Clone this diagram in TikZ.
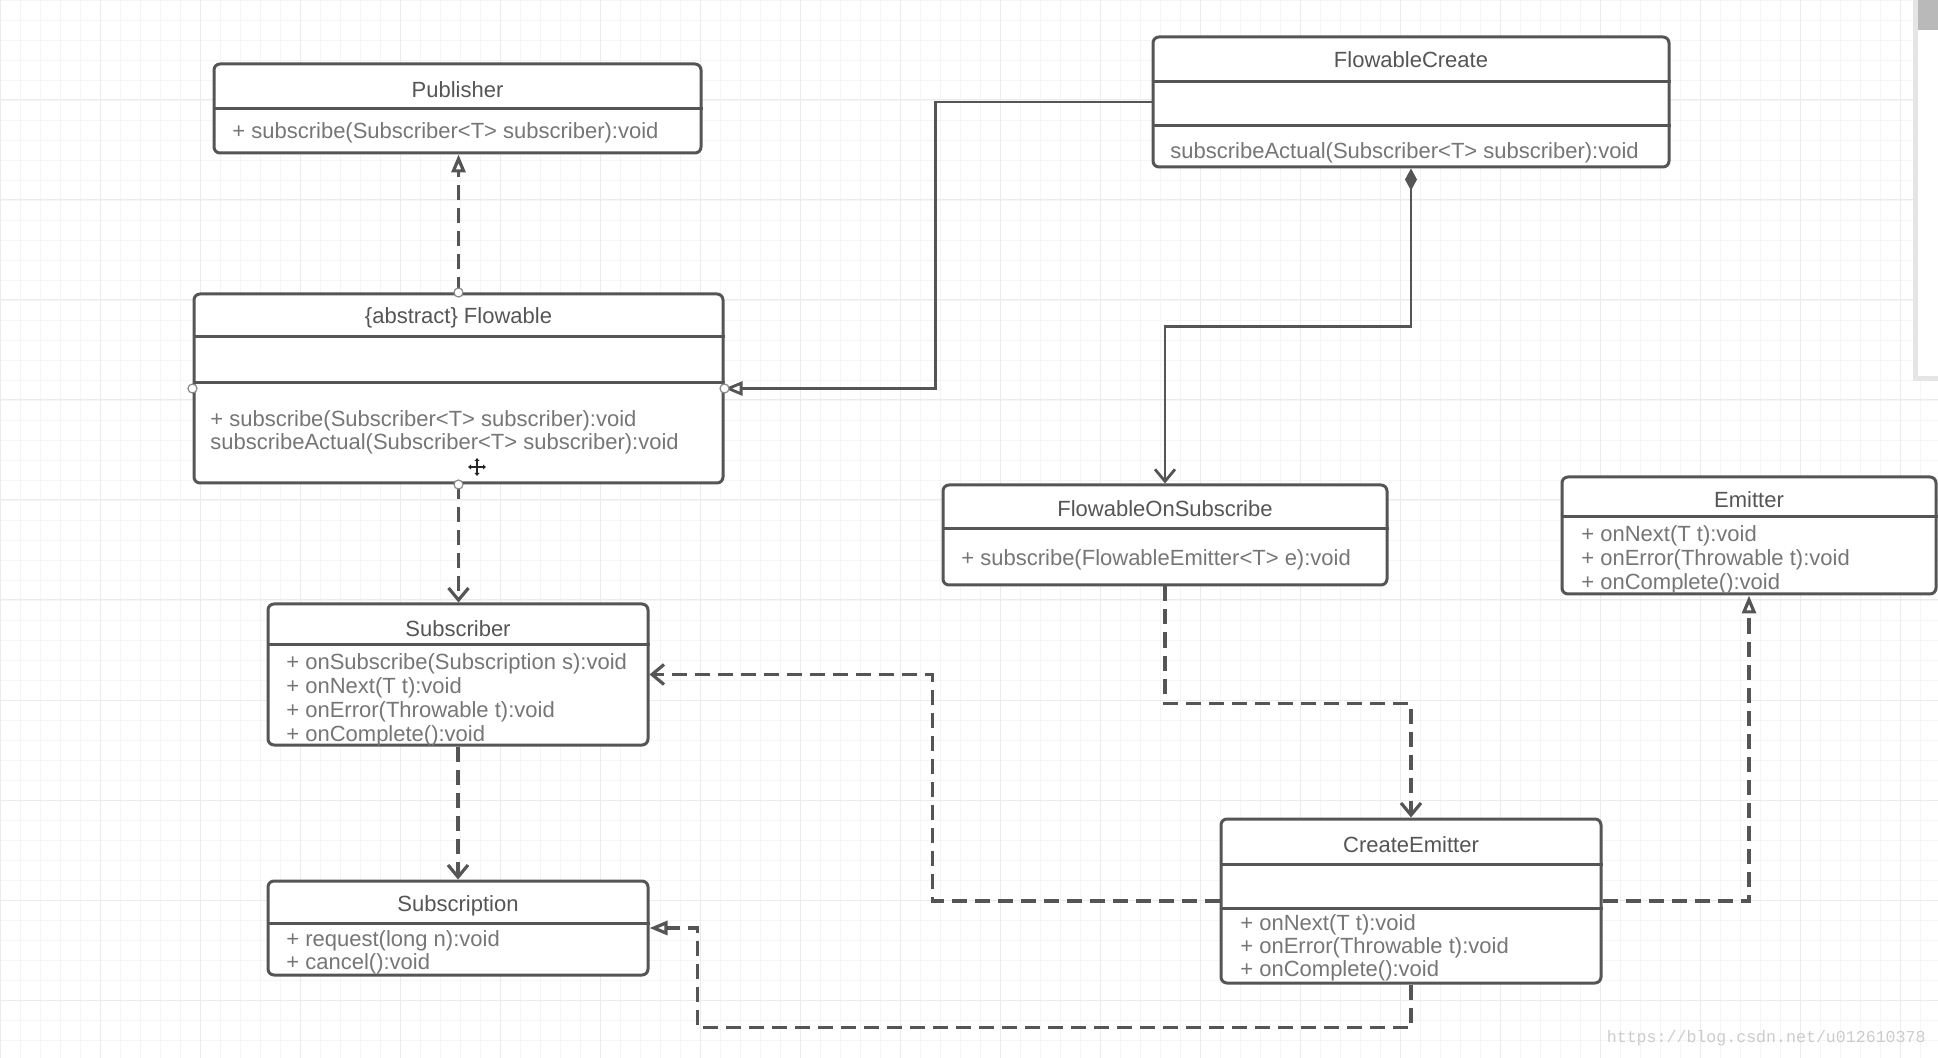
\documentclass[tikz,border=0pt]{standalone}
\usepackage{fontspec}
\setmainfont{Liberation Sans}
\newfontfamily\wmfont{Liberation Mono}
\usetikzlibrary{arrows.meta,fit,calc}
\definecolor{lc}{HTML}{555555}
\definecolor{tc}{HTML}{767676}
\definecolor{hc}{HTML}{555555}
\definecolor{gmin}{HTML}{F5F5F5}
\definecolor{gmaj}{HTML}{EBEBEB}
\tikzset{
 cls/.style={draw=lc, line width=1.5pt, rounded corners=3pt, inner sep=0pt, fill=white},
 sep/.style={draw=lc, line width=1.5pt},
 ttl/.style={font=\fontsize{11}{13}\selectfont, text=hc, inner sep=0pt},
 mem/.style={font=\fontsize{11}{13}\selectfont, text=tc, inner sep=0pt, anchor=west},
 conn/.style={draw=lc, line width=1.4pt},
 dsh/.style={conn, line width=1.6pt, dash pattern=on 7.5pt off 4pt},
 realize/.style={-{Triangle[open, length=9pt, width=7pt]}},
 depend/.style={-{Straight Barb[length=6pt, width=10pt]}},
 handle/.style={circle, draw=lc!70, fill=white, line width=0.6pt, inner sep=0pt, minimum size=4.5pt},
}
\begin{document}
\begin{tikzpicture}[x=0.5pt,y=-0.5pt]
\useasboundingbox (0,0) rectangle (1938,1058);
\fill[white] (0,0) rectangle (1938,1058);
% grid
\foreach \x in {0,20,...,1940} \draw[gmin, line width=0.4pt] (\x,0) -- (\x,1058);
\foreach \y in {0,20,...,1060} \draw[gmin, line width=0.4pt] (0,\y) -- (1938,\y);
\foreach \x in {0,100,...,1900} \draw[gmaj, line width=0.5pt] (\x,0) -- (\x,1058);
\foreach \y in {0,100,...,1000} \draw[gmaj, line width=0.5pt] (0,\y) -- (1938,\y);

% boxes
\node[cls, fit={(214,64)(701,153)}] (pub) {};
\node[cls, fit={(194,294)(723,483)}] (flow) {};
\node[cls, fit={(1153,37)(1669,167)}] (fc) {};
\node[cls, fit={(268,604)(648,745)}] (sub) {};
\node[cls, fit={(268,881)(648,975)}] (subn) {};
\node[cls, fit={(943,485)(1387,585)}] (fos) {};
\node[cls, fit={(1562,477)(1936,594)}] (em) {};
\node[cls, fit={(1221,819)(1601,983)}] (ce) {};

% dividers
\draw[sep] (pub.west |- 0,109) -- (pub.east |- 0,109);
\draw[sep] (flow.west |- 0,337) -- (flow.east |- 0,337);
\draw[sep] (flow.west |- 0,383) -- (flow.east |- 0,383);
\draw[sep] (fc.west |- 0,82) -- (fc.east |- 0,82);
\draw[sep] (fc.west |- 0,126) -- (fc.east |- 0,126);
\draw[sep] (sub.west |- 0,644) -- (sub.east |- 0,644);
\draw[sep] (subn.west |- 0,923) -- (subn.east |- 0,923);
\draw[sep] (fos.west |- 0,529) -- (fos.east |- 0,529);
\draw[sep] (em.west |- 0,517) -- (em.east |- 0,517);
\draw[sep] (ce.west |- 0,864) -- (ce.east |- 0,864);
\draw[sep] (ce.west |- 0,908) -- (ce.east |- 0,908);

% titles
\node[ttl] (tpub) at (pub.north |- 0,90) {Publisher};
\node[ttl] (tflow) at (flow.north |- 0,318) {\{abstract\} Flowable};
\node[ttl] (tfc) at (fc.north |- 0,60) {FlowableCreate};
\node[ttl] (tsub) at (sub.north |- 0,629) {Subscriber};
\node[ttl] (tsubn) at (subn.north |- 0,906) {Subscription};
\node[ttl] (tfos) at (fos.north |- 0,509) {FlowableOnSubscribe};
\node[ttl] (tem) at (em.north |- 0,500) {Emitter};
\node[ttl] (tce) at (ce.north |- 0,845) {CreateEmitter};

% members
\node[mem] (m1) at (232,133) {+ subscribe(Subscriber<T> subscriber):void};
\node[mem] (m2) at (210,421) {+ subscribe(Subscriber<T> subscriber):void};
\node[mem] (m3) at (210,444) {subscribeActual(Subscriber<T> subscriber):void};
\node[mem] (m4) at (1170,153) {subscribeActual(Subscriber<T> subscriber):void};
\node[mem] (m5) at (286,664) {+ onSubscribe(Subscription s):void};
\node[mem] (m6) at (286,688) {+ onNext(T t):void};
\node[mem] (m7) at (286,712) {+ onError(Throwable t):void};
\node[mem] (m8) at (286,736) {+ onComplete():void};
\node[mem] (m9) at (286,941) {+ request(long n):void};
\node[mem] (m10) at (286,964) {+ cancel():void};
\node[mem] (m11) at (961,560) {+ subscribe(FlowableEmitter<T> e):void};
\node[mem] (m12) at (1581,536) {+ onNext(T t):void};
\node[mem] (m13) at (1581,560) {+ onError(Throwable t):void};
\node[mem] (m14) at (1581,584) {+ onComplete():void};
\node[mem] (m15) at (1240,925) {+ onNext(T t):void};
\node[mem] (m16) at (1240,948) {+ onError(Throwable t):void};
\node[mem] (m17) at (1240,971) {+ onComplete():void};

% connectors
\draw[dsh, realize] (flow.north) -- (flow.north |- pub.south);
\draw[conn, realize] (fc.west) -- ++(-216,0) |- (flow.east);
\draw[conn, {Diamond[length=11pt, width=6pt]}-{Straight Barb[length=6pt, width=10pt]}] (fc.south) -- ++(0,158) -| (fos.north);
\draw[dsh, depend] (flow.south) -- (flow.south |- sub.north);
\draw[dsh, depend] (sub.south) -- (sub.south |- subn.north);
\draw[dsh, depend] (fos.south) -- ++(0,117) -| (ce.north);
\draw[dsh, depend] (ce.west) -- ++(-287,0) |- (sub.east);
\draw[dsh, realize] (ce.east) -| (em.south);
\draw[dsh, realize] (ce.south) -- ++(0,43) -| ($(subn.east)+(48,0)$) -- (subn.east);

% selection handles
\node[handle] (h1) at (flow.north) {};
\node[handle] (h2) at (flow.south) {};
\node[handle] (h3) at (flow.west) {};
\node[handle] (h4) at (flow.east) {};

% cursor
\draw[line width=1.3pt, black!85] (470,467) -- (484,467) (477,460) -- (477,474);
\fill[black!85] (468,467) -- (471,464.5) -- (471,469.5) -- cycle;
\fill[black!85] (486,467) -- (483,464.5) -- (483,469.5) -- cycle;
\fill[black!85] (477,458) -- (474.5,461) -- (479.5,461) -- cycle;
\fill[black!85] (477,476) -- (474.5,473) -- (479.5,473) -- cycle;

% side panel at right edge
\fill[gray!20] (1913,0) rectangle (1938,381);
\fill[white] (1918,30) rectangle (1938,376);
\fill[gray!55] (1918,0) rectangle (1938,30);

% watermark
\node[font=\wmfont\fontsize{8.3}{10}\selectfont, text=gray!40, anchor=east, inner sep=0pt] (wm) at (1926,1038) {https://blog.csdn.net/u012610378};
\end{tikzpicture}
\end{document}
